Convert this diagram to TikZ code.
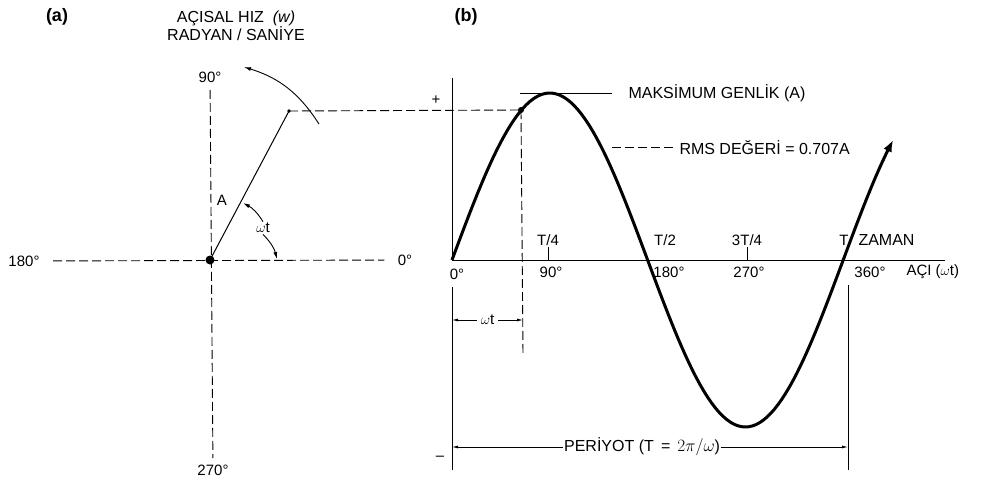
\documentclass[tikz,border=0pt]{standalone}
\usepackage{fontspec}
\setmainfont{Liberation Sans}
\usetikzlibrary{arrows.meta}

\tikzset{
  lbl/.style={font=\fontsize{15}{17}\selectfont, inner sep=1pt},
  big/.style={font=\fontsize{16}{18}\selectfont, inner sep=1pt},
  ttl/.style={font=\bfseries\fontsize{18}{20}\selectfont, inner sep=1pt},
  dsh/.style={dash pattern=on 9pt off 4pt, line width=0.9pt},
  dim/.style={{Latex[length=6pt,width=3pt]}-{Latex[length=6pt,width=3pt]}, line width=0.8pt},
  arr/.style={-{Latex[length=7pt,width=4pt]}, line width=0.9pt},
}

\begin{document}
\begin{tikzpicture}[x=1pt,y=-1pt,line width=1pt]
	\useasboundingbox (0,0) rectangle (989,480);
	
	% Titles
	\node[ttl] (ta) at (57,17) {(a)};
	\node[ttl] (tb) at (466,17) {(b)};
	\node[big,align=center] (hiz) at (236,26) {AÇISAL HIZ \ \textit{(w)}\\RADYAN / SANİYE};
	
	% (a) Axes
	\coordinate (o) at (210,260);
	\node[lbl] (n90) at (210,77) {90°};
	\node[lbl] (n270) at (213,470) {270°};
	\node[lbl] (n180) at (24,261) {180°};
	\node[lbl] (n0) at (405,260) {0°};
	\draw[dsh,shorten <=6pt,shorten >=5pt] (n90) -- (n270);
	\draw[dsh,shorten <=12pt,shorten >=12pt] (n180) -- (n0);
	
	% (a) Phasor
	\coordinate (tip) at (289,111);
	\draw (o) -- (tip);
	\fill (o) circle (4.5pt);
	\fill (tip) circle (1.8pt);
	\node[lbl] (amp) at (222,200) {A};
	\node[lbl] (wt) at (263,228) {$\omega$t};
	\coordinate (wa) at (243,203);
	\coordinate (wb) at (277,259);
	\draw[arr] (wt.north) to[bend right=15] (wa);
	\draw[arr] (wt.south) to[bend left=15] (wb);
	
	% (a) Rotation
	\coordinate (r1) at (319,124);
	\coordinate (r2) at (244,67);
	\draw[arr] (r1) to[bend right=20] (r2);
	
	% (b) Axes
	\coordinate (o2) at (452,260);
	\coordinate (xend) at (945,260);
	\coordinate (ytop) at (452,78);
	\coordinate (ybot) at (452,470);
	\node[lbl] (n0b) at (457,274) {0°};
	\draw (ytop) -- (o2) -- (xend);
	\draw (n0b.south -| ybot) ++(0,6) -- (ybot);
	\node[lbl] (plus) at (436,100) {+};
	\node[lbl] (minus) at (440,458) {–};
	
	% Ticks and labels
	\draw (548,260) -- (548,247);
	\draw (747,260) -- (747,247);
	\node[lbl] (q1) at (548,240) {T/4};
	\node[lbl] (q2) at (665,240) {T/2};
	\node[lbl] (q3) at (747,240) {3T/4};
	\node[lbl] (q4) at (844,240) {T};
	\node[big,anchor=west] (zaman) at (857,240) {ZAMAN};
	\node[lbl] (d90) at (551,272) {90°};
	\node[lbl] (d180) at (669,272) {180°};
	\node[lbl] (d270) at (749,272) {270°};
	\node[lbl] (d360) at (870,272) {360°};
	\node[lbl,anchor=west] (aci) at (905,272) {AÇI ($\omega$t)};
	
	% Sine wave
	\draw[line width=3pt,-{Latex[length=12pt,width=9pt]}] plot[domain=0:406,samples=120] ({452+1.0867*\x},{260-167*sin(\x)});
	
	% Point at wt
	\coordinate (p) at (521,110);
	\coordinate (pd) at (523,355);
	\fill (p) circle (3pt);
	\draw[dsh] (tip) -- (p);
	\draw[dsh] (p) -- (pd);
	
	% Max and RMS
	\coordinate (m1) at (520,93);
	\coordinate (m2) at (612,93);
	\node[big,anchor=west] (maks) at (627,93) {MAKSİMUM GENLİK (A)};
	\draw (m1) -- (m2);
	\coordinate (r3) at (612,147);
	\coordinate (r4) at (673,147);
	\node[big,anchor=west] (rms) at (678,148) {RMS DEĞERİ = 0.707A};
	\draw[dsh] (r3) -- (r4);
	
	% Dimensions
	\coordinate (w1) at (452,320);
	\coordinate (w2) at (523,320);
	\draw[dim] (w1) -- (w2) node[midway,fill=white,lbl,inner xsep=4pt] (wtd) {$\omega$t};
	\coordinate (e1) at (452,447);
	\coordinate (e2) at (848,447);
	\coordinate (e3) at (848,285);
	\coordinate (e4) at (848,470);
	\draw (e3) -- (e4);
	\draw[dim] (e1) -- (e2) node[pos=0.48,fill=white,big] (per) {PERİYOT (T \,=\, $2\pi/\omega$)};
	
\end{tikzpicture}
\end{document}
